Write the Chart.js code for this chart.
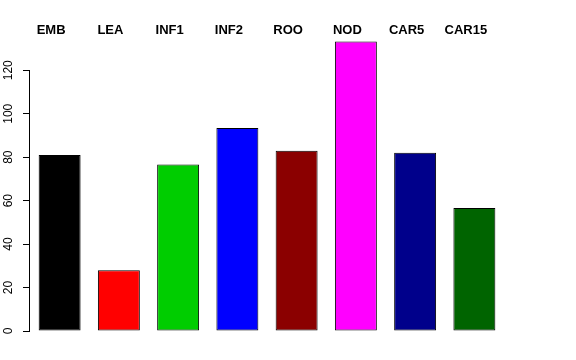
<!DOCTYPE html>
<html>
<head>
<meta charset="utf-8">
<script src="https://cdn.jsdelivr.net/npm/chart.js@4/dist/chart.umd.min.js"></script>
<style>
  html, body { margin: 0; padding: 0; background: #fff; }
  #wrap { width: 576px; height: 360px; }
</style>
</head>
<body>
<div id="wrap"><canvas id="barChart"></canvas></div>
<script>
var stages = ['EMB', 'LEA', 'INF1', 'INF2', 'ROO', 'NOD', 'CAR5', 'CAR15'];
var counts = [81, 28, 76.6, 93.4, 83, 133.2, 82, 56.6];
var barColors = ['#000000', '#ff0000', '#00cd00', '#0000ff', '#8b0000', '#ff00ff', '#00008b', '#006400'];
var yTicks = [0, 20, 40, 60, 80, 100, 120];

// y axis line only spans the tick range, like base R
var axisLine = {
    id: 'axisLine',
    afterDraw: function(chart) {
        var y = chart.scales.y;
        var ctx = chart.ctx;
        var x = chart.chartArea.left - 0.5;
        ctx.save();
        ctx.strokeStyle = '#000';
        ctx.lineWidth = 1;
        ctx.beginPath();
        ctx.moveTo(x, y.getPixelForValue(yTicks[0]));
        ctx.lineTo(x, y.getPixelForValue(yTicks[yTicks.length - 1]));
        ctx.stroke();
        ctx.restore();
    }
};

var ctx = document.getElementById('barChart').getContext('2d');
new Chart(ctx, {
    type: 'bar',
    data: {
        labels: stages,
        datasets: [{
            data: counts,
            backgroundColor: barColors,
            borderColor: '#000',
            borderWidth: 1,
            borderSkipped: false,
            barPercentage: 0.708,
            categoryPercentage: 1
        }]
    },
    options: {
        responsive: true,
        maintainAspectRatio: false,
        animation: false,
        layout: {
            padding: { top: 25, right: 72, bottom: 29, left: 0 }
        },
        scales: {
            x: {
                position: 'top',
                grid: { display: false, drawTicks: false },
                border: { display: false },
                ticks: {
                    color: '#000',
                    padding: -2,
                    labelOffset: -8.5,
                    font: { family: 'Liberation Sans', size: 13, weight: 'bold' }
                }
            },
            y: {
                min: 0,
                max: 135.5,
                afterFit: function(scale) { scale.width = 30; },
                afterBuildTicks: function(scale) {
                    scale.ticks = yTicks.map(function(v) { return { value: v }; });
                },
                grid: {
                    drawOnChartArea: false,
                    drawTicks: true,
                    tickLength: 7,
                    color: '#000'
                },
                border: { display: false },
                ticks: {
                    color: '#000',
                    minRotation: 90,
                    maxRotation: 90,
                    crossAlign: 'center',
                    padding: 4,
                    font: { family: 'Liberation Sans', size: 12 }
                }
            }
        },
        plugins: {
            legend: { display: false },
            tooltip: { enabled: false }
        }
    },
    plugins: [axisLine]
});
</script>
</body>
</html>
